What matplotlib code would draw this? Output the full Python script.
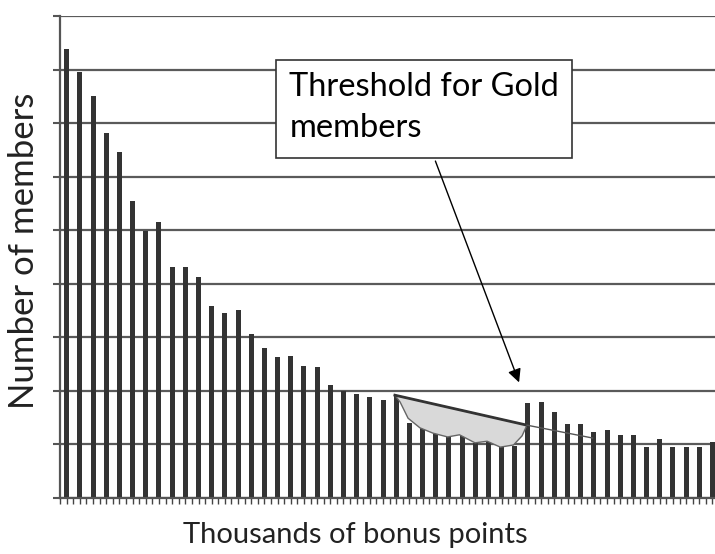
import matplotlib
matplotlib.use("Agg")
import matplotlib.pyplot as plt
from matplotlib.patches import Rectangle, Polygon

# heights of the 50 bars (gridline units)
heights = [8.38, 7.95, 7.50, 6.81, 6.46, 5.54, 4.98, 5.15, 4.32, 4.32,
           4.13, 3.59, 3.46, 3.51, 3.06, 2.80, 2.64, 2.66, 2.46, 2.44,
           2.11, 2.00, 1.95, 1.89, 1.83, 1.92, 1.40, 1.31, 1.21, 1.14,
           1.18, 1.02, 1.04, 0.95, 0.97, 1.77, 1.79, 1.60, 1.38, 1.39,
           1.24, 1.27, 1.17, 1.17, 0.96, 1.10, 0.96, 0.96, 0.95, 1.05]
bins = list(range(len(heights)))

# hand-drawn "missing members" blob below the threshold
blob_x = [24.9, 34.92, 34.55, 33.9, 32.9, 31.9, 30.98, 29.8, 28.9, 27.8, 26.8, 25.9, 25.3]
blob_y = [1.92, 1.36, 1.16, 0.99, 0.95, 1.06, 1.03, 1.18, 1.14, 1.21, 1.31, 1.49, 1.79]
trend_x = [34.92, 39.9]
trend_y = [1.36, 1.12]

label_text = "Threshold for Gold\nmembers"
font = "Lato"

fig = plt.figure(figsize=(7.15, 5.54), dpi=100)
ax = fig.add_axes([60 / 715, 56 / 554, 655 / 715, 482 / 554])

ax.bar(bins, heights, width=0.38, color="#333333", zorder=2)

ax.set_xlim(-0.51, 49.19)
ax.set_ylim(0, 9)
ax.set_yticks(range(0, 10))
ax.set_yticklabels([])
ax.set_xticks([b / 2 for b in range(-1, 99)])
ax.set_xticklabels([])
ax.tick_params(axis="y", length=5, width=1.5, color="#555555")
ax.tick_params(axis="x", length=4, width=1, color="#444444")
ax.grid(axis="y", color="#5a5a5a", linewidth=1.6, zorder=1)
ax.set_axisbelow(True)
for side in ["top", "right"]:
    ax.spines[side].set_visible(False)
for side in ["left", "bottom"]:
    ax.spines[side].set_color("#555555")
    ax.spines[side].set_linewidth(1.6)

blob = Polygon(list(zip(blob_x, blob_y)), closed=True, facecolor="#d9d9d9",
               edgecolor="#666666", linewidth=1.0, zorder=3)
ax.add_patch(blob)
ax.plot(blob_x[:2], blob_y[:2], color="#333333", linewidth=2, zorder=4)
ax.plot(trend_x, trend_y, color="#555555", linewidth=1, zorder=4)

# callout box and arrow
ax.add_patch(Rectangle((15.88, 6.34), 22.47, 1.83, facecolor="white",
                       edgecolor="#333333", linewidth=1.2, zorder=5))
ax.text(16.9, 7.95, label_text, fontsize=23.5, family=font, color="black",
        va="top", ha="left", linespacing=1.45, zorder=6)
ax.annotate("", xy=(34.4, 2.11), xytext=(27.9, 6.34),
            arrowprops=dict(arrowstyle="-|>", color="black", lw=1,
                            mutation_scale=20), zorder=6)

fig.text(24 / 715, 1 - 251 / 554, "Number of members", rotation=90,
         fontsize=25, family=font, color="#222222", ha="center", va="center")
fig.text(355 / 715, 1 - 535 / 554, "Thousands of bonus points",
         fontsize=21, family=font, color="#222222", ha="center", va="center")

fig.savefig("out.png", dpi=100)
